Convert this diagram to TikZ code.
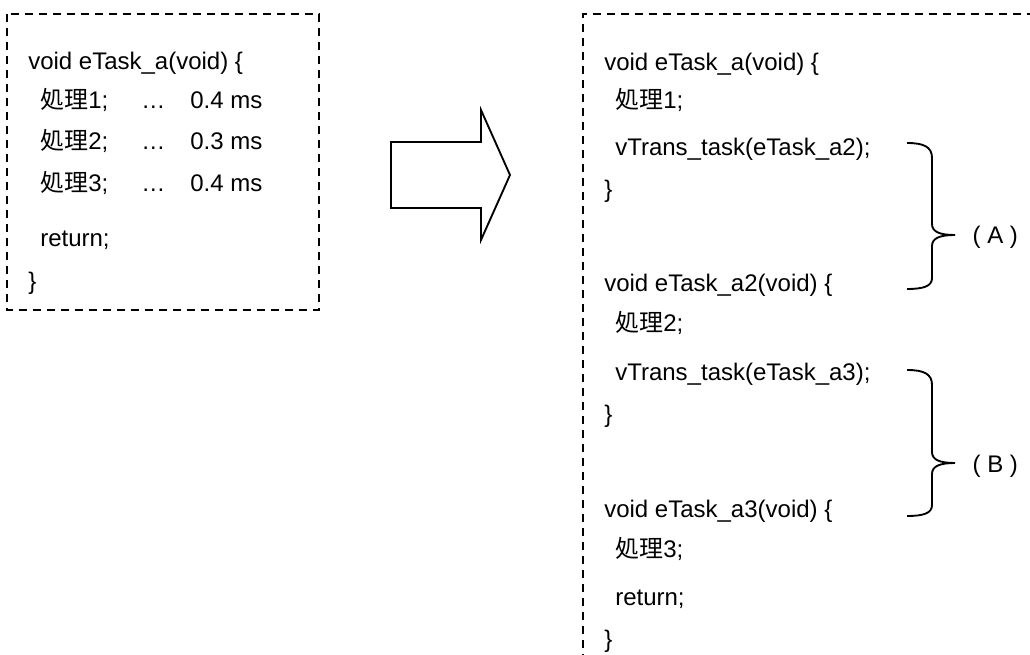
\documentclass[tikz,border=0pt]{standalone}
\usepackage{fontspec}
\setmainfont{Liberation Sans}
\newfontfamily\jpfont{Noto Sans CJK JP}
\newcommand{\shori}[1]{{\jpfont 処理}#1;}

\begin{document}
\begin{tikzpicture}[x=0.75pt, y=-0.75pt, font=\fontsize{18}{22}\selectfont,
		code/.style={anchor=base west, inner sep=0pt},
		dashbox/.style={line width=1.5pt, dash pattern=on 6pt off 4.5pt},
		outline/.style={line width=1.4pt, line join=miter},
		bracket/.style={line width=1.4pt}]
	\useasboundingbox (0,0) rectangle (1030,655);

	% before: one task
	\draw[dashbox] (7,14) rectangle (319,310);
	\node[code] (l1) at (28,70) {void eTask\_a(void) \{};
	\node[code] (l2) at (40,109) {\shori{1}};
	\node[code] (l2d) at (141,109) {…};
	\node[code] (l2t) at (190,109) {0.4 ms};
	\node[code] (l3) at (40,150) {\shori{2}};
	\node[code] (l3d) at (141,150) {…};
	\node[code] (l3t) at (190,150) {0.3 ms};
	\node[code] (l4) at (40,192) {\shori{3}};
	\node[code] (l4d) at (141,192) {…};
	\node[code] (l4t) at (190,192) {0.4 ms};
	\node[code] (l5) at (40,247) {return;};
	\node[code] (l6) at (28,290) {\}};

	% block arrow
	\draw[outline] (391,142) -- (481,142) -- (481,110) -- (510,175)
		-- (481,240) -- (481,208) -- (391,208) -- cycle;

	% after: split tasks
	\draw[dashbox] (1035,14) -- (583,14) -- (583,660);
	\node[code] (r1) at (604,71) {void eTask\_a(void) \{};
	\node[code] (r2) at (615,109) {\shori{1}};
	\node[code] (r3) at (615,156) {vTrans\_task(eTask\_a2);};
	\node[code] (r4) at (604,198) {\}};
	\node[code] (r5) at (604,292) {void eTask\_a2(void) \{};
	\node[code] (r6) at (615,332) {\shori{2}};
	\node[code] (r7) at (615,380) {vTrans\_task(eTask\_a3);};
	\node[code] (r8) at (604,422) {\}};
	\node[code] (r9) at (604,517) {void eTask\_a3(void) \{};
	\node[code] (r10) at (615,557) {\shori{3}};
	\node[code] (r11) at (615,605) {return;};
	\node[code] (r12) at (604,647) {\}};

	% braces
	\draw[bracket] (907,143) .. controls (924,143) and (932,147) .. (932,158)
		-- (932,224) .. controls (932,232) and (940,235) .. (955,235) coordinate (tipA)
		.. controls (940,235) and (932,238) .. (932,246)
		-- (932,278) .. controls (932,286) and (924,289) .. (907,289);
	\draw[bracket] (907,370) .. controls (924,370) and (932,374) .. (932,385)
		-- (932,452) .. controls (932,460) and (940,463) .. (955,463) coordinate (tipB)
		.. controls (940,463) and (932,466) .. (932,474)
		-- (932,505) .. controls (932,513) and (924,516) .. (907,516);
	\node[code] (labA) at ([xshift=13]tipA |- 0,244) {( A )};
	\node[code] (labB) at ([xshift=13]tipB |- 0,472) {( B )};
\end{tikzpicture}
\end{document}
